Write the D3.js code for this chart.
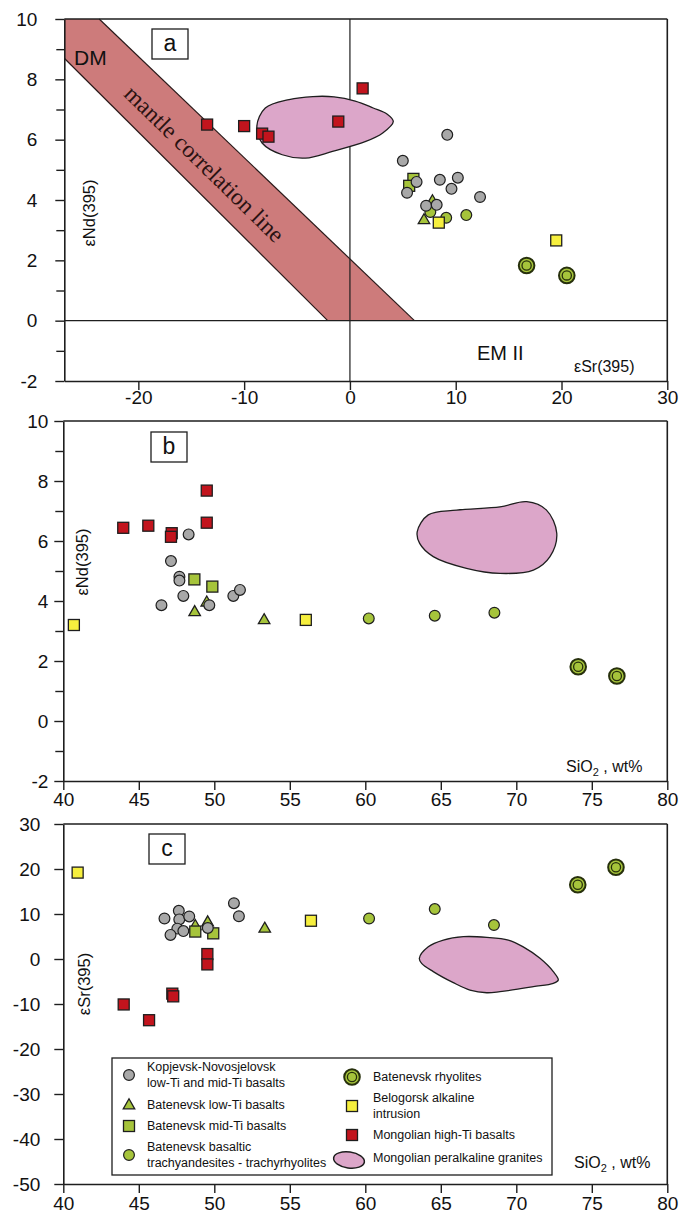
<!DOCTYPE html>
<html><head><meta charset="utf-8">
<script src="https://cdn.jsdelivr.net/npm/d3@7"></script>
<style>body{margin:0;background:#fff}</style>
</head><body>
<svg id="c" width="679" height="1217" xmlns="http://www.w3.org/2000/svg"></svg>
<script>
// ---------- DATA ----------
// panel a : eSr(395) vs eNd(395)
const grayA = [[9.2,6.16],[5.0,5.3],[6.3,4.6],[8.5,4.67],[10.2,4.74],[9.6,4.37],[5.4,4.24],[12.3,4.1],[7.2,3.81],[8.2,3.84]];
const triA  = [[7.8,3.97],[7.0,3.34]];
const gsqA  = [[6.0,4.7],[5.6,4.47]];
const gcirA = [[7.6,3.6],[9.1,3.41],[11.0,3.5]];
const rhyA  = [[16.7,1.83],[20.5,1.5]];
const ysqA  = [[8.4,3.25],[19.5,2.66]];
const redA  = [[-13.5,6.5],[-10.0,6.45],[-8.3,6.2],[-7.7,6.1],[-1.1,6.6],[1.2,7.7]];
const blobA = [[-8.8,6.45],[-8.0,7.05],[-5.75,7.33],[-3.5,7.43],[-1.5,7.42],[0.5,7.28],[2.2,7.05],[3.5,6.85],[4.1,6.6],[3.1,6.22],[1.5,5.94],[-1.65,5.61],[-4.2,5.39],[-6.4,5.5],[-8.3,5.89]];
const bandUpper = [[-23.7,10],[6.1,0]];
const bandLower = [[-27,8.7],[-2.1,0]];
// panel b : SiO2 vs eNd(395)
const grayB = [[48.3,6.22],[47.13,5.33],[47.69,4.81],[47.69,4.68],[47.95,4.17],[46.5,3.86],[49.67,3.86],[51.26,4.17],[51.7,4.37]];
const triB  = [[48.7,3.64],[49.5,3.96],[53.3,3.37]];
const gsqB  = [[48.68,4.72],[49.87,4.48]];
const gcirB = [[60.23,3.42],[64.6,3.51],[68.55,3.61]];
const rhyB  = [[74.1,1.81],[76.66,1.5]];
const ysqB  = [[40.7,3.2],[56.06,3.37]];
const redB  = [[43.97,6.44],[45.63,6.51],[47.18,6.26],[47.13,6.14],[49.5,7.68],[49.5,6.61]];
const blobB = [[63.44,6.31],[64.17,6.87],[66.05,7.03],[68.92,7.14],[70.69,7.31],[72.0,7.03],[72.68,6.26],[72.23,5.48],[71.13,5.03],[68.92,4.92],[66.7,5.09],[64.5,5.48],[63.6,5.92]];
// panel c : SiO2 vs eSr(395)
const grayC = [[46.7,9.0],[47.65,10.7],[47.68,8.8],[48.34,9.45],[47.55,6.75],[47.95,6.2],[47.1,5.35],[49.57,6.9],[51.3,12.4],[51.63,9.5]];
const triC  = [[48.74,7.4],[49.56,8.2],[53.34,6.8]];
const gsqC  = [[48.74,6.1],[49.93,5.7]];
const gcirC = [[60.25,9.0],[64.6,11.1],[68.52,7.55]];
const rhyC  = [[74.07,16.5],[76.6,20.4]];
const ysqC  = [[40.95,19.2],[56.4,8.5]];
const redC  = [[44.0,-10.1],[45.68,-13.6],[47.22,-7.7],[47.28,-8.3],[49.54,1.1],[49.54,-1.2]];
const blobC = [[63.58,0.15],[64.17,2.7],[65.17,4.2],[66.5,4.96],[68.05,4.81],[69.47,4.2],[70.46,2.7],[71.57,0.15],[72.45,-2.8],[72.78,-4.67],[72.45,-5.4],[71.13,-6.15],[68.92,-7.26],[68.04,-7.5],[66.93,-6.9],[65.83,-5.26],[64.5,-2.8],[63.73,-0.96]];
// ticks
const xTicksA = [-20,-10,0,10,20,30];
const yTicksNd = [-2,0,2,4,6,8,10];
const yMinorNd = [-1,1,3,5,7,9];
const xTicksSi = [40,45,50,55,60,65,70,75,80];
const yTicksSr = [-50,-40,-30,-20,-10,0,10,20,30];
// legend
const legendItems = [
  {type:"gray", lines:["Kopjevsk-Novosjelovsk","low-Ti and mid-Ti basalts"]},
  {type:"tri",  lines:["Batenevsk low-Ti basalts"]},
  {type:"gsq",  lines:["Batenevsk mid-Ti basalts"]},
  {type:"gcir", lines:["Batenevsk basaltic","trachyandesites - trachyrhyolites"]},
  {type:"rhy",  lines:["Batenevsk rhyolites"]},
  {type:"ysq",  lines:["Belogorsk alkaline","intrusion"]},
  {type:"red",  lines:["Mongolian high-Ti basalts"]},
  {type:"blob", lines:["Mongolian peralkaline granites"]}
];

// ---------- STYLE ----------
const C = {gray:"#a8a8a8", green:"#a6c43b", yellow:"#f6ef3e", red:"#c2141d", pink:"#dca6c9", band:"#cd7b7b", ink:"#1e1e1e"};
const FONT = "'Liberation Sans', Arial, sans-serif";
const svg = d3.select("#c");
const fmt = d => String(d);

const panels = {
  a:{x:d3.scaleLinear([-27,30],[64.3,667.3]), y:d3.scaleLinear([-2,10],[381,19])},
  b:{x:d3.scaleLinear([40,80],[63.3,667.3]),  y:d3.scaleLinear([-2,10],[781,421])},
  c:{x:d3.scaleLinear([40,80],[63.3,667.3]),  y:d3.scaleLinear([-50,30],[1184,824])}
};

function frame(p, xt, yt, yminor, ypad, xpad){
  const g = svg.append("g");
  const [x0,x1] = p.x.range(), [y0,y1] = p.y.range();
  g.append("line").attr("x1",x0).attr("x2",x1).attr("y1",y1).attr("y2",y1).attr("stroke",C.ink).attr("stroke-width",1.6);
  g.append("line").attr("x1",x1).attr("x2",x1).attr("y1",y1).attr("y2",y0).attr("stroke",C.ink).attr("stroke-width",1.6);
  g.append("g").attr("transform",`translate(0,${y0})`)
    .call(d3.axisBottom(p.x).tickValues(xt).tickFormat(fmt).tickSize(9).tickSizeOuter(0).tickPadding(xpad));
  g.append("g").attr("transform",`translate(${x0},0)`)
    .call(d3.axisLeft(p.y).tickValues(yt).tickFormat(fmt).tickSize(9).tickSizeOuter(0).tickPadding(ypad));
  if (yminor) {
    g.append("g").attr("transform",`translate(${x0},0)`)
      .call(d3.axisLeft(p.y).tickValues(yminor).tickSize(8).tickSizeOuter(0).tickFormat(()=>""))
      .select(".domain").remove();
  }
  g.selectAll(".domain").attr("stroke",C.ink).attr("stroke-width",1.6);
  g.selectAll(".tick line").attr("stroke",C.ink).attr("stroke-width",1.4);
  g.selectAll(".tick text").attr("font-size",19).attr("font-family",FONT).attr("fill","#111");
}

function boxLabel(x, y, t){
  svg.append("rect").attr("x",x).attr("y",y).attr("width",36).attr("height",30)
    .attr("fill","#fff").attr("stroke",C.ink).attr("stroke-width",1.3);
  svg.append("text").attr("x",x+18).attr("y",y+22).attr("text-anchor","middle")
    .attr("font-size",23).attr("font-family",FONT).attr("fill","#111").text(t);
}
function vlabel(x, y, base){
  svg.append("text").attr("transform",`translate(${x},${y}) rotate(-90)`)
    .attr("text-anchor","middle").attr("dominant-baseline","central")
    .attr("font-size",16.5).attr("font-family",FONT).attr("fill","#111").text(base);
}
function siLabel(x, y){
  const t = svg.append("text").attr("x",x).attr("y",y).attr("font-size",16).attr("font-family",FONT).attr("fill","#111");
  t.append("tspan").text("SiO");
  t.append("tspan").attr("font-size",11).attr("dy",4).text("2");
  t.append("tspan").attr("dy",-4).text(" , wt%");
}

function drawSym(g, type, cx, cy){
  if (type==="gray" || type==="gcir") {
    g.append("circle").attr("cx",cx).attr("cy",cy).attr("r",5.4)
      .attr("fill", type==="gray"?C.gray:C.green).attr("stroke",C.ink).attr("stroke-width",1.2);
  } else if (type==="gsq" || type==="ysq" || type==="red") {
    const a = 11;
    g.append("rect").attr("x",cx-a/2).attr("y",cy-a/2).attr("width",a).attr("height",a)
      .attr("fill", type==="gsq"?C.green:type==="ysq"?C.yellow:C.red).attr("stroke",C.ink).attr("stroke-width",1.3);
  } else if (type==="tri") {
    const a = 11.5, h = a*0.87;
    g.append("path").attr("d",`M${cx},${cy-h*0.62}L${cx+a/2},${cy+h*0.38}L${cx-a/2},${cy+h*0.38}Z`)
      .attr("fill",C.green).attr("stroke",C.ink).attr("stroke-width",1.3);
  } else if (type==="rhy") {
    g.append("circle").attr("cx",cx).attr("cy",cy).attr("r",7.8).attr("fill",C.green).attr("stroke","#27300c").attr("stroke-width",2);
    g.append("circle").attr("cx",cx).attr("cy",cy).attr("r",4.6).attr("fill",C.green).attr("stroke","#27300c").attr("stroke-width",1.3);
  }
}
function plotSeries(p, data, type){
  const g = svg.append("g");
  data.forEach(d => drawSym(g, type, p.x(d[0]), p.y(d[1])));
}
function blob(p, data){
  const line = d3.line().x(d=>p.x(d[0])).y(d=>p.y(d[1])).curve(d3.curveCatmullRomClosed.alpha(0.5));
  svg.append("path").attr("d",line(data)).attr("fill",C.pink).attr("stroke",C.ink).attr("stroke-width",1.3);
}
function drawAll(p, s){
  plotSeries(p, s.gcir, "gcir");
  plotSeries(p, s.tri, "tri");
  plotSeries(p, s.gsq, "gsq");
  plotSeries(p, s.gray, "gray");
  plotSeries(p, s.ysq, "ysq");
  plotSeries(p, s.red, "red");
  plotSeries(p, s.rhy, "rhy");
}

// ---------- PANEL A ----------
{
  const p = panels.a;
  const poly = [[-27,10], bandUpper[0], bandUpper[1], bandLower[1], bandLower[0]];
  svg.append("path").attr("d", d3.line().x(d=>p.x(d[0])).y(d=>p.y(d[1]))(poly)+"Z").attr("fill",C.band);
  [bandUpper, bandLower].forEach(l => svg.append("line")
     .attr("x1",p.x(l[0][0])).attr("y1",p.y(l[0][1])).attr("x2",p.x(l[1][0])).attr("y2",p.y(l[1][1]))
     .attr("stroke","#2a1a1a").attr("stroke-width",1.2));
  svg.append("line").attr("x1",p.x(0)).attr("x2",p.x(0)).attr("y1",p.y(10)).attr("y2",p.y(-2)).attr("stroke",C.ink).attr("stroke-width",1.2);
  svg.append("line").attr("x1",p.x(-27)).attr("x2",p.x(30)).attr("y1",p.y(0)).attr("y2",p.y(0)).attr("stroke",C.ink).attr("stroke-width",1.2);
  blob(p, blobA);
  frame(p, xTicksA, yTicksNd, yMinorNd, 18, 1);
  const mx = (p.x(bandUpper[0][0])+p.x(bandLower[1][0]))/2, my = (p.y(bandUpper[0][1])+p.y(bandLower[1][1]))/2;
  const ang = Math.atan2(p.y(bandUpper[1][1])-p.y(bandUpper[0][1]), p.x(bandUpper[1][0])-p.x(bandUpper[0][0]))*180/Math.PI;
  svg.append("text").attr("transform",`translate(${mx-9},${my-6}) rotate(${ang+0.6})`)
    .attr("text-anchor","middle").attr("dominant-baseline","central")
    .attr("font-family","'Liberation Serif','DejaVu Serif',serif").attr("font-size",23.5).attr("fill","#2a1212")
    .text("mantle correlation line");
  svg.append("text").attr("x",74).attr("y",65).attr("font-size",21).attr("font-family",FONT).attr("fill","#111").text("DM");
  svg.append("text").attr("x",477).attr("y",360).attr("font-size",20).attr("font-family",FONT).attr("fill","#111").text("EM II");
  svg.append("text").attr("x",574).attr("y",372).attr("font-size",16).attr("font-family",FONT).attr("fill","#111").text("εSr(395)");
  vlabel(88.5, 213, "εNd(395)");
  boxLabel(152, 29, "a");
  drawAll(p, {gray:grayA, tri:triA, gsq:gsqA, gcir:gcirA, rhy:rhyA, ysq:ysqA, red:redA});
}
// ---------- PANEL B ----------
{
  const p = panels.b;
  blob(p, blobB);
  frame(p, xTicksSi, yTicksNd, yMinorNd, 6, 3);
  vlabel(82, 562, "εNd(395)");
  boxLabel(151, 432, "b");
  siLabel(566, 772);
  drawAll(p, {gray:grayB, tri:triB, gsq:gsqB, gcir:gcirB, rhy:rhyB, ysq:ysqB, red:redB});
}
// ---------- PANEL C ----------
{
  const p = panels.c;
  blob(p, blobC);
  frame(p, xTicksSi, yTicksSr, null, 14, 4);
  vlabel(83.5, 984, "εSr(395)");
  boxLabel(149, 834, "c");
  siLabel(574, 1168);
  drawAll(p, {gray:grayC, tri:triC, gsq:gsqC, gcir:gcirC, rhy:rhyC, ysq:ysqC, red:redC});
  const lg = svg.append("g");
  lg.append("rect").attr("x",112).attr("y",1058).attr("width",440).attr("height",117)
    .attr("fill","#fff").attr("stroke",C.ink).attr("stroke-width",1.3);
  const rows = [1075,1105,1126,1155,1077,1106,1135,1158];
  legendItems.forEach((it,i) => {
    const col = i<4 ? 0 : 1;
    const sx = col===0 ? 129 : 352, tx = col===0 ? 147 : 373;
    const cy = rows[i];
    if (it.type==="blob") {
      lg.append("ellipse").attr("cx",349).attr("cy",cy+2).attr("rx",15.5).attr("ry",8)
        .attr("transform",`rotate(8,349,${cy+2})`)
        .attr("fill",C.pink).attr("stroke",C.ink).attr("stroke-width",1.5);
    } else {
      drawSym(lg, it.type, sx, cy);
    }
    const n = it.lines.length;
    it.lines.forEach((ln,j) => {
      lg.append("text").attr("x",tx).attr("y",cy + (j-(n-1)/2)*15.5).attr("dominant-baseline","central")
        .attr("font-size",12.5).attr("font-family",FONT).attr("fill","#111").text(ln);
    });
  });
}
</script>
</body></html>
